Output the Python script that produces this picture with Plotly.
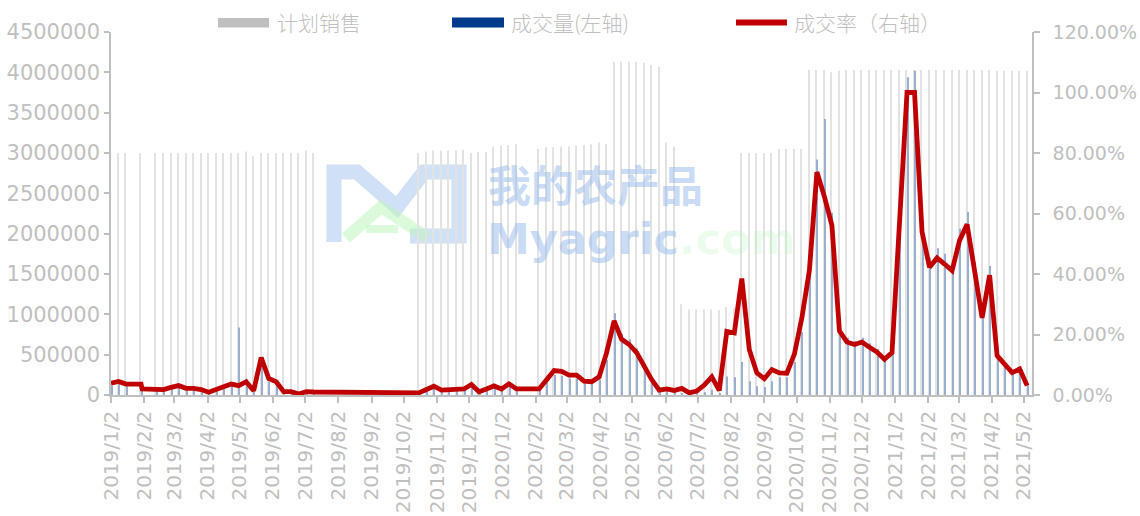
import plotly.graph_objects as go

# ---------------- data ----------------
dates = [
    "2019-01-02", "2019-01-09", "2019-01-16", "2019-01-30", "2019-01-31", "2019-02-13", "2019-02-20",
    "2019-02-27", "2019-03-06", "2019-03-13", "2019-03-20", "2019-03-27", "2019-04-03", "2019-04-10",
    "2019-04-17", "2019-04-24", "2019-05-01", "2019-05-08", "2019-05-15", "2019-05-22", "2019-05-29",
    "2019-06-05", "2019-06-12", "2019-06-19", "2019-06-26", "2019-07-03", "2019-07-10",
    "2019-10-16", "2019-10-23", "2019-10-30", "2019-11-06", "2019-11-13", "2019-11-20", "2019-11-27",
    "2019-12-04", "2019-12-11", "2019-12-18", "2019-12-25", "2020-01-01", "2020-01-08", "2020-01-15",
    "2020-02-05", "2020-02-12", "2020-02-19", "2020-02-26", "2020-03-04", "2020-03-11", "2020-03-18",
    "2020-03-25", "2020-04-01", "2020-04-08", "2020-04-15", "2020-04-22", "2020-04-29", "2020-05-06",
    "2020-05-13", "2020-05-20", "2020-05-27", "2020-06-03", "2020-06-10", "2020-06-17", "2020-06-24",
    "2020-07-01", "2020-07-08", "2020-07-15", "2020-07-22", "2020-07-29",
    "2020-08-05", "2020-08-12", "2020-08-19", "2020-08-26", "2020-09-02", "2020-09-09", "2020-09-16",
    "2020-09-23", "2020-09-30", "2020-10-07", "2020-10-14", "2020-10-21", "2020-10-28", "2020-11-04",
    "2020-11-11", "2020-11-18", "2020-11-25", "2020-12-02", "2020-12-09", "2020-12-16", "2020-12-23",
    "2020-12-30", "2021-01-06", "2021-01-13", "2021-01-20", "2021-01-27", "2021-02-03", "2021-02-10",
    "2021-02-17", "2021-02-24", "2021-03-03", "2021-03-10", "2021-03-17", "2021-03-24", "2021-03-31",
    "2021-04-07", "2021-04-14", "2021-04-21", "2021-04-28", "2021-05-05",
]

plan_sales = [
    3000000, 3000000, 3000000, 3000000, None, 3000000, 3000000,
    3000000, 3000000, 3000000, 3000000, 3000000, 3000000, 3000000,
    3000000, 3000000, 3000000, 3020000, 2960000, 3000000, 3000000,
    3000000, 3000000, 3000000, 3000000, 3030000, 3000000,
    3000000, 3020000, 3030000, 3030000, 3030000, 3030000, 3040000,
    3000000, 3010000, 3010000, 3080000, 3090000, 3100000, 3110000,
    3050000, 3070000, 3070000, 3080000, 3080000, 3090000, 3100000,
    3110000, 3130000, 3110000, 4130000, 4130000, 4130000, 4130000,
    4120000, 4090000, 4070000, 3130000, 3080000, 1125000, 1060000,
    1060000, 1060000, 1060000, 1050000, 1090000,
    1080000, 3000000, 3000000, 3000000, 3000000, 3000000, 3050000,
    3050000, 3050000, 3050000, 4030000, 4030000, 4030000, 4000000,
    4020000, 4030000, 4030000, 4030000, 4030000, 4030000, 4030000,
    4030000, 4030000, 4030000, 4030000, 4030000, 4030000, 4030000,
    4030000, 4030000, 4030000, 4030000, 4030000, 4030000, 4030000,
    4020000, 4020000, 4020000, 4020000, 4020000,
]

volume = [
    117000, 135000, 108000, 108000, None, 60000, 54000,
    75000, 93000, 66000, 66000, 54000, 27000, 54000,
    75000, 108000, 836000, 132000, 42000, 372000, 165000,
    132000, 33000, 33000, 9000, 33000, 30000,
    21000, 54000, 88000, 48000, 52000, 55000, 61000,
    105000, 33000, 60000, 92000, 62000, 115000, 62000,
    61000, 154000, 249000, 240000, 203000, 204000, 143000,
    137000, 188000, 435000, 1012000, 760000, 690000, 578000,
    387000, 209000, 65000, 63000, 46000, 25000, 7000,
    14000, 35000, 64000, 16000, 229000,
    220000, 410000, 170000, 110000, 100000, 170000, 220000,
    220000, 410000, 780000, 1660000, 2920000, 3420000, 2260000,
    850000, 710000, 670000, 710000, 640000, 570000, 480000,
    560000, 2300000, 3940000, 4020000, 2170000, 1700000, 1820000,
    1750000, 1660000, 2060000, 2270000, 1650000, 1030000, 1600000,
    520000, 410000, 300000, 350000, 120000,
]

deal_rate_pct = [
    3.9, 4.5, 3.6, 3.6, 2.0, 2.0, 1.8,
    2.5, 3.1, 2.2, 2.2, 1.8, 0.9, 1.8,
    2.5, 3.6, 3.1, 4.4, 1.4, 12.4, 5.5,
    4.4, 1.1, 1.1, 0.3, 1.1, 1.0,
    0.7, 1.8, 2.9, 1.6, 1.7, 1.8, 2.0,
    3.5, 1.1, 2.0, 3.0, 2.0, 3.7, 2.0,
    2.0, 5.0, 8.1, 7.8, 6.6, 6.6, 4.6,
    4.4, 6.0, 14.0, 24.5, 18.4, 16.7, 14.0,
    9.4, 5.1, 1.6, 2.0, 1.5, 2.2, 0.7,
    1.3, 3.3, 6.0, 1.5, 21.0,
    20.5, 38.5, 15.0, 7.3, 5.4, 8.4, 7.3,
    7.2, 13.5, 25.5, 41.2, 73.7, 65.6, 56.1,
    21.2, 17.5, 16.7, 17.5, 15.8, 14.2, 11.8,
    14.0, 57.0, 100.0, 100.0, 53.9, 42.2, 45.3,
    43.3, 41.1, 51.1, 56.4, 41.0, 25.5, 39.6,
    13.0, 10.2, 7.4, 8.6, 3.1,
]

tick_dates = [
    "2019-01-02", "2019-02-02", "2019-03-02", "2019-04-02", "2019-05-02", "2019-06-02",
    "2019-07-02", "2019-08-02", "2019-09-02", "2019-10-02", "2019-11-02", "2019-12-02",
    "2020-01-02", "2020-02-02", "2020-03-02", "2020-04-02", "2020-05-02", "2020-06-02",
    "2020-07-02", "2020-08-02", "2020-09-02", "2020-10-02", "2020-11-02", "2020-12-02",
    "2021-01-02", "2021-02-02", "2021-03-02", "2021-04-02", "2021-05-02",
]
tick_labels = [
    "2019/1/2", "2019/2/2", "2019/3/2", "2019/4/2", "2019/5/2", "2019/6/2",
    "2019/7/2", "2019/8/2", "2019/9/2", "2019/10/2", "2019/11/2", "2019/12/2",
    "2020/1/2", "2020/2/2", "2020/3/2", "2020/4/2", "2020/5/2", "2020/6/2",
    "2020/7/2", "2020/8/2", "2020/9/2", "2020/10/2", "2020/11/2", "2020/12/2",
    "2021/1/2", "2021/2/2", "2021/3/2", "2021/4/2", "2021/5/2",
]

series_names = ["计划销售", "成交量(左轴)", "成交率（右轴）"]
series_colors = ["#bfbfbf", "#003a8c", "#c00000"]

# ---------------- layout constants ----------------
W, H = 1140, 516
PL, PR, PT, PB = 111, 1032, 32, 395
DAY = 86400000
AXIS_GREY = "#bfbfbf"
TEXT_GREY = "#bfbfbf"
TICK_FONT = dict(family="DejaVu Sans", size=21, color=TEXT_GREY)
XTICK_FONT = dict(family="DejaVu Sans", size=20, color=TEXT_GREY)
RTICK_FONT = dict(family="DejaVu Sans", size=19, color=TEXT_GREY)
CJK = "Noto Sans CJK SC"


def px(x):
    return (x - PL) / (PR - PL)


def py(y):
    return (PB - y) / (PB - PT)


fig = go.Figure()

fig.add_trace(go.Bar(
    x=dates, y=plan_sales, name=series_names[0],
    marker=dict(color="#e2e2e2", line=dict(width=0)),
    width=DAY * 0.95, offset=-DAY, showlegend=False,
))
fig.add_trace(go.Bar(
    x=dates, y=volume, name=series_names[1],
    marker=dict(color="#9aaed0", line=dict(width=0)),
    width=DAY * 0.95, offset=0.05 * DAY, showlegend=False,
))
fig.add_trace(go.Scatter(
    x=dates, y=[r / 100 for r in deal_rate_pct], name=series_names[2],
    yaxis="y2", mode="lines",
    line=dict(color=series_colors[2], width=4.8),
    showlegend=False,
))

shapes = []
annotations = []

# ---- watermark logo (decorative) ----
shapes.append(dict(
    type="path", xref="paper", yref="paper", layer="below",
    path="M {} {} L {} {} L {} {} L {} {} L {} {} L {} {} L {} {} L {} {}".format(
        px(334), py(242), px(334), py(172), px(357), py(172), px(397), py(207),
        px(424), py(172), px(459), py(172), px(459), py(236), px(410), py(236)),
    line=dict(color="rgba(170,198,238,0.55)", width=15),
))
shapes.append(dict(
    type="path", xref="paper", yref="paper", layer="below",
    path="M {} {} L {} {} L {} {}".format(px(346), py(238), px(381), py(207), px(428), py(238)),
    line=dict(color="rgba(190,245,190,0.55)", width=12),
))
shapes.append(dict(
    type="line", xref="paper", yref="paper", layer="below",
    x0=px(366), x1=px(398), y0=py(229), y1=py(229),
    line=dict(color="rgba(190,245,190,0.55)", width=8),
))
annotations.append(dict(
    xref="paper", yref="paper", x=px(486), y=py(183), xanchor="left", yanchor="middle",
    text="我的农产品", showarrow=False,
    font=dict(family=CJK, size=43, color="rgba(150,185,235,0.5)", weight="bold"),
))
annotations.append(dict(
    xref="paper", yref="paper", x=px(485), y=py(239), xanchor="left", yanchor="middle",
    text="Myagric<span style='color:rgba(180,245,180,0.5)'>.com</span>", showarrow=False,
    font=dict(family="DejaVu Sans", size=43, color="rgba(150,185,235,0.5)", weight="bold"),
))

# ---- legend (drawn manually to match wide swatches) ----
shapes.append(dict(type="rect", xref="paper", yref="paper",
                   x0=px(218), x1=px(269), y0=py(27.5), y1=py(18),
                   fillcolor=series_colors[0], line=dict(width=0)))
shapes.append(dict(type="rect", xref="paper", yref="paper",
                   x0=px(452), x1=px(504), y0=py(27.5), y1=py(17.5),
                   fillcolor=series_colors[1], line=dict(width=0)))
shapes.append(dict(type="line", xref="paper", yref="paper",
                   x0=px(736), x1=px(787), y0=py(22.5), y1=py(22.5),
                   line=dict(color=series_colors[2], width=6)))
for name, xl in zip(series_names, [275, 509, 792]):
    annotations.append(dict(
        xref="paper", yref="paper", x=px(xl), y=py(22), xanchor="left", yanchor="middle",
        text=name, showarrow=False,
        font=dict(family=CJK, size=21, color=TEXT_GREY, weight=300),
    ))

fig.update_layout(
    width=W, height=H,
    margin=dict(l=PL, r=W - PR, t=PT, b=H - PB, pad=0, autoexpand=False),
    paper_bgcolor="white", plot_bgcolor="white",
    barmode="overlay", showlegend=False,
    xaxis=dict(
        type="date", range=["2019-01-02", "2021-05-09 12:00"],
        tickmode="array", tickvals=tick_dates, ticktext=tick_labels,
        tickangle=-90, ticks="outside", ticklen=6, tickwidth=1.5, tickcolor=AXIS_GREY,
        showline=True, linecolor=AXIS_GREY, linewidth=1.5, automargin=False,
        showgrid=False, zeroline=False, tickfont=XTICK_FONT,
    ),
    yaxis=dict(
        range=[0, 4500000], dtick=500000, tick0=0, tickformat="d",
        ticks="outside", ticklen=5, tickwidth=1.5, tickcolor=AXIS_GREY,
        showline=True, linecolor=AXIS_GREY, linewidth=1.5, automargin=False,
        showgrid=False, zeroline=False, tickfont=TICK_FONT,
    ),
    yaxis2=dict(
        overlaying="y", side="right", range=[0, 1.2], dtick=0.2, tick0=0,
        tickformat=".2%", ticks="outside", ticklen=6, tickwidth=1.5, tickcolor=AXIS_GREY,
        showline=True, linecolor=AXIS_GREY, linewidth=1.5, ticklabelstandoff=9,
        automargin=False, showgrid=False, zeroline=False, tickfont=RTICK_FONT,
    ),
    shapes=shapes,
    annotations=annotations,
)

fig.write_html("out.html", config={"displayModeBar": False},
               post_script="document.body.style.margin='0';")
